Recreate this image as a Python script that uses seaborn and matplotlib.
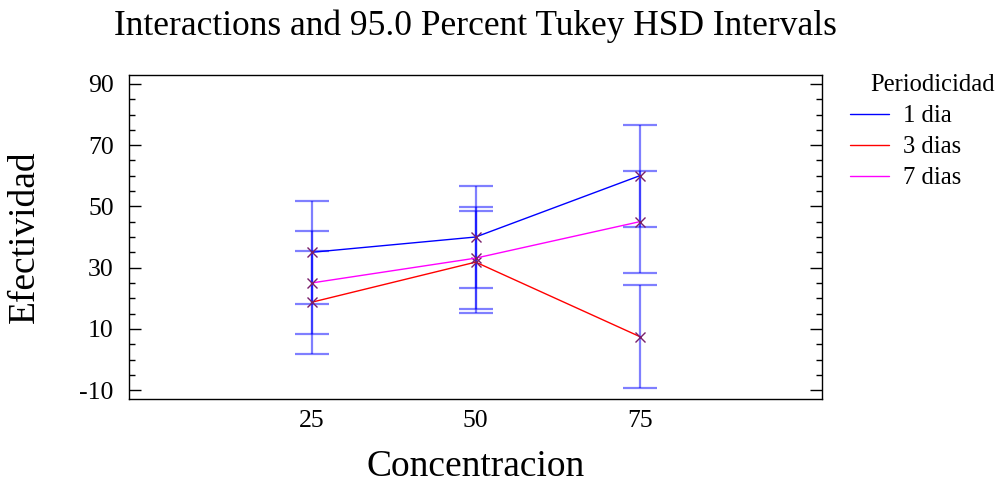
import numpy as np
import pandas as pd
import matplotlib
matplotlib.use("Agg")
import matplotlib.pyplot as plt
from matplotlib.lines import Line2D
from matplotlib.ticker import MultipleLocator, FixedLocator
import seaborn as sns

# ---- data ----
concentracion = [25, 50, 75]
groups = ["1 dia", "3 dias", "7 dias"]
mean_1dia = [35.0, 40.0, 60.0]
mean_3dias = [18.7, 31.8, 7.5]
mean_7dias = [25.0, 33.1, 45.0]
# Tukey HSD half-widths of the intervals
hw_1dia = [16.8, 16.7, 16.7]
hw_3dias = [16.8, 16.7, 16.8]
hw_7dias = [16.8, 16.7, 16.7]
colors = ["#0000ff", "#ff0000", "#ff00ff"]

df = pd.DataFrame({
    "Concentracion": concentracion * 3,
    "Efectividad": mean_1dia + mean_3dias + mean_7dias,
    "Periodicidad": [g for g in groups for _ in concentracion],
    "hw": hw_1dia + hw_3dias + hw_7dias,
})

sns.set_theme(style="white")
plt.rcParams["font.family"] = ["Liberation Serif", "DejaVu Serif"]
plt.rcParams["axes.unicode_minus"] = False
plt.rcParams["text.color"] = "black"
plt.rcParams["axes.labelcolor"] = "black"
plt.rcParams["xtick.color"] = "black"
plt.rcParams["ytick.color"] = "black"

fig = plt.figure(figsize=(10, 4.83), dpi=100)
ax = fig.add_axes([0.129, 0.1739, 0.693, 0.6708])

# intervals
for g in groups:
    sub = df[df["Periodicidad"] == g]
    ax.errorbar(sub["Concentracion"], sub["Efectividad"], yerr=sub["hw"],
                fmt="none", ecolor="#0000ff", alpha=0.5, elinewidth=1.6,
                capsize=12, capthick=1.6, zorder=2)

palette = dict(zip(groups, colors))
sns.lineplot(data=df, x="Concentracion", y="Efectividad", hue="Periodicidad",
             palette=palette, marker="x", markersize=6.5,
             markeredgecolor="#7a1f6a", markeredgewidth=1.0,
             linewidth=1.0, legend=False, ax=ax, zorder=3, sort=False)

ax.set_xlim(-2.85, 102.8)
ax.set_ylim(-12.9, 92.9)
ax.xaxis.set_major_locator(FixedLocator(concentracion))
ax.yaxis.set_major_locator(MultipleLocator(20, offset=10))
ax.yaxis.set_minor_locator(MultipleLocator(5))
ax.tick_params(axis="x", length=0, labelsize=18.5, pad=8)
ax.tick_params(axis="y", which="major", direction="in", length=8.6, width=1,
               left=True, right=True, labelsize=18.5, pad=11)
ax.tick_params(axis="y", which="minor", direction="in", length=4.3, width=1,
               left=True, right=True)
for s in ax.spines.values():
    s.set_color("black")
    s.set_linewidth(1.0)

ax.set_xlabel("Concentracion", fontsize=27, va="center")
ax.set_ylabel("Efectividad", fontsize=27, va="center")
ax.xaxis.set_label_coords(0.5, (399 - 467) / 324)
ax.yaxis.set_label_coords((25 - 129.3) / 693, 0.5)
fig.text(0.4755, 1 - 26 / 483, "Interactions and 95.0 Percent Tukey HSD Intervals",
         ha="center", va="center", fontsize=25.5)

# legend
handles = [Line2D([0], [0], color=c, lw=1.0) for c in colors]
fig.text(0.870, 1 - 85 / 483, "Periodicidad", ha="left", va="center", fontsize=17.7)
fig.legend(handles, groups, loc="upper left", bbox_to_anchor=(0.850, 1 - 105 / 483),
           frameon=False, fontsize=17.7, handlelength=1.6, handletextpad=0.55,
           labelspacing=0.36, borderaxespad=0, borderpad=0)

fig.savefig("out.png", dpi=100, facecolor="white")
